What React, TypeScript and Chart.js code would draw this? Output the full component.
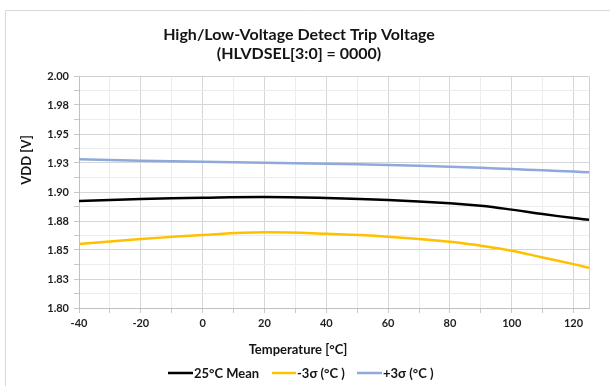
import React, { useEffect, useRef } from 'react';
import { Chart, registerables } from 'chart.js';

Chart.register(...registerables);

const temperatures = [-40, -20, 0, 20, 40, 60, 80, 90, 100, 110, 120, 125];
const meanValues = [1.8922, 1.894, 1.8951, 1.8957, 1.8948, 1.8931, 1.8903, 1.8881, 1.8848, 1.881, 1.8775, 1.876];
const minus3Values = [1.8552, 1.8595, 1.863, 1.8652, 1.864, 1.8615, 1.8572, 1.8537, 1.8494, 1.8436, 1.8378, 1.8347];
const plus3Values = [1.9282, 1.927, 1.9261, 1.9253, 1.9244, 1.9233, 1.9218, 1.9209, 1.9198, 1.9187, 1.9176, 1.917];

const seriesLabels = ['25°C Mean', '-3σ (°C )', '+3σ (°C )'];
const seriesColors = ['#000000', '#FFC000', '#8EA9DB'];

const xTickValues = [-40, -30, -20, -10, 0, 10, 20, 30, 40, 50, 60, 70, 80, 90, 100, 110, 120];
const yTickValues = [1.8, 1.8125, 1.825, 1.8375, 1.85, 1.8625, 1.875, 1.8875, 1.9, 1.9125, 1.925, 1.9375, 1.95, 1.9625, 1.975, 1.9875, 2.0];
const yMajorLabels = ['1.80', '1.83', '1.85', '1.88', '1.90', '1.93', '1.95', '1.98', '2.00'];

const titleLines = ['High/Low-Voltage Detect Trip Voltage', '(HLVDSEL[3:0] = 0000)'];
const xAxisTitle = 'Temperature [°C]';
const yAxisTitle = 'VDD [V]';

const FONT = 'Lato, "Open Sans", sans-serif';

const overlayPlugin = {
  id: 'overlay',
  beforeDraw(chart: any) {
    const ctx = chart.ctx;
    ctx.save();
    ctx.fillStyle = '#ffffff';
    ctx.fillRect(0, 0, chart.width, chart.height);
    ctx.strokeStyle = '#d9d9d9';
    ctx.lineWidth = 1;
    ctx.beginPath();
    ctx.moveTo(5.5, chart.height);
    ctx.lineTo(5.5, 10.5);
    ctx.lineTo(chart.width, 10.5);
    ctx.stroke();
    ctx.restore();
  },
  afterDraw(chart: any) {
    const ctx = chart.ctx;
    const a = chart.chartArea;
    ctx.save();
    ctx.strokeStyle = '#d0d0d0';
    ctx.lineWidth = 1;
    ctx.beginPath();
    ctx.moveTo(Math.round(a.left) + 0.5, Math.round(a.top) + 0.5);
    ctx.lineTo(Math.round(a.right) + 0.5, Math.round(a.top) + 0.5);
    ctx.lineTo(Math.round(a.right) + 0.5, Math.round(a.bottom) + 0.5);
    ctx.stroke();

    ctx.fillStyle = '#141414';
    ctx.textAlign = 'center';
    ctx.textBaseline = 'alphabetic';
    ctx.font = `bold 16px ${FONT}`;
    ctx.fillText(titleLines[0], 299, 40);
    ctx.fillText(titleLines[1], 299, 59);

    ctx.font = `bold 13px ${FONT}`;
    ctx.fillText(xAxisTitle, 298, 354);

    ctx.save();
    ctx.translate(31, 160);
    ctx.rotate(-Math.PI / 2);
    ctx.textAlign = 'center';
    ctx.fillText(yAxisTitle, 0, 0);
    ctx.restore();

    const items = [
      { x: 168, len: 25 },
      { x: 272, len: 24 },
      { x: 357, len: 25 },
    ];
    ctx.textAlign = 'left';
    ctx.font = `bold 13px ${FONT}`;
    items.forEach((it, i) => {
      ctx.strokeStyle = seriesColors[i];
      ctx.lineWidth = 2.5;
      ctx.beginPath();
      ctx.moveTo(it.x, 373);
      ctx.lineTo(it.x + it.len, 373);
      ctx.stroke();
      ctx.fillStyle = '#141414';
      ctx.fillText(seriesLabels[i], it.x + it.len + 1, 378);
    });
    ctx.restore();
  },
};

export default function App() {
  const canvasRef = useRef<HTMLCanvasElement | null>(null);

  useEffect(() => {
    document.body.style.margin = '0';
    const canvas = canvasRef.current;
    if (!canvas) return;
    const mk = (vals: number[]) => temperatures.map((t, i) => ({ x: t, y: vals[i] }));
    const chart = new Chart(canvas, {
      type: 'line',
      data: {
        datasets: [meanValues, minus3Values, plus3Values].map((vals, i) => ({
          label: seriesLabels[i],
          data: mk(vals),
          borderColor: seriesColors[i],
          backgroundColor: seriesColors[i],
          borderWidth: 2.5,
          pointRadius: 0,
          tension: 0.4,
          fill: false,
        })),
      },
      options: {
        responsive: false,
        animation: false,
        devicePixelRatio: 1,
        layout: { padding: { top: 76, right: 21, left: 0, bottom: 0 } },
        plugins: {
          legend: { display: false },
          title: { display: false },
          tooltip: { enabled: false },
        },
        scales: {
          x: {
            type: 'linear',
            min: -40,
            max: 125,
            afterBuildTicks: (s: any) => {
              s.ticks = xTickValues.map((v) => ({ value: v }));
            },
            afterFit: (s: any) => {
              s.height = 78;
            },
            ticks: {
              autoSkip: false,
              maxRotation: 0,
              padding: 4,
              color: '#1f1f1f',
              font: { family: FONT, size: 11, weight: 'bold' },
              callback: (v: any) => (Number(v) % 20 === 0 ? String(v) : ''),
            },
            grid: {
              color: (c: any) => (c.tick && c.tick.value % 20 === 0 ? '#d6d6d6' : '#ececec'),
              tickColor: '#c8c8c8',
              tickLength: 5,
            },
            border: { color: '#c0c0c0' },
          },
          y: {
            type: 'linear',
            min: 1.8,
            max: 2.0,
            afterBuildTicks: (s: any) => {
              s.ticks = yTickValues.map((v) => ({ value: v }));
            },
            afterFit: (s: any) => {
              s.width = 79;
            },
            ticks: {
              autoSkip: false,
              padding: 5,
              color: '#1f1f1f',
              font: { family: FONT, size: 11, weight: 'bold' },
              callback: (_v: any, idx: number) => (idx % 2 === 0 ? yMajorLabels[idx / 2] : ''),
            },
            grid: {
              color: (c: any) => (c.index % 2 === 0 ? '#d6d6d6' : '#ececec'),
              tickColor: '#c8c8c8',
              tickLength: 5,
            },
            border: { color: '#c0c0c0' },
          },
        },
      },
      plugins: [overlayPlugin],
    });
    return () => chart.destroy();
  }, []);

  return (
    <div style={{ position: 'absolute', left: 0, top: 0, width: 610, height: 386 }}>
      <canvas ref={canvasRef} width={610} height={386} style={{ display: 'block' }} />
    </div>
  );
}
